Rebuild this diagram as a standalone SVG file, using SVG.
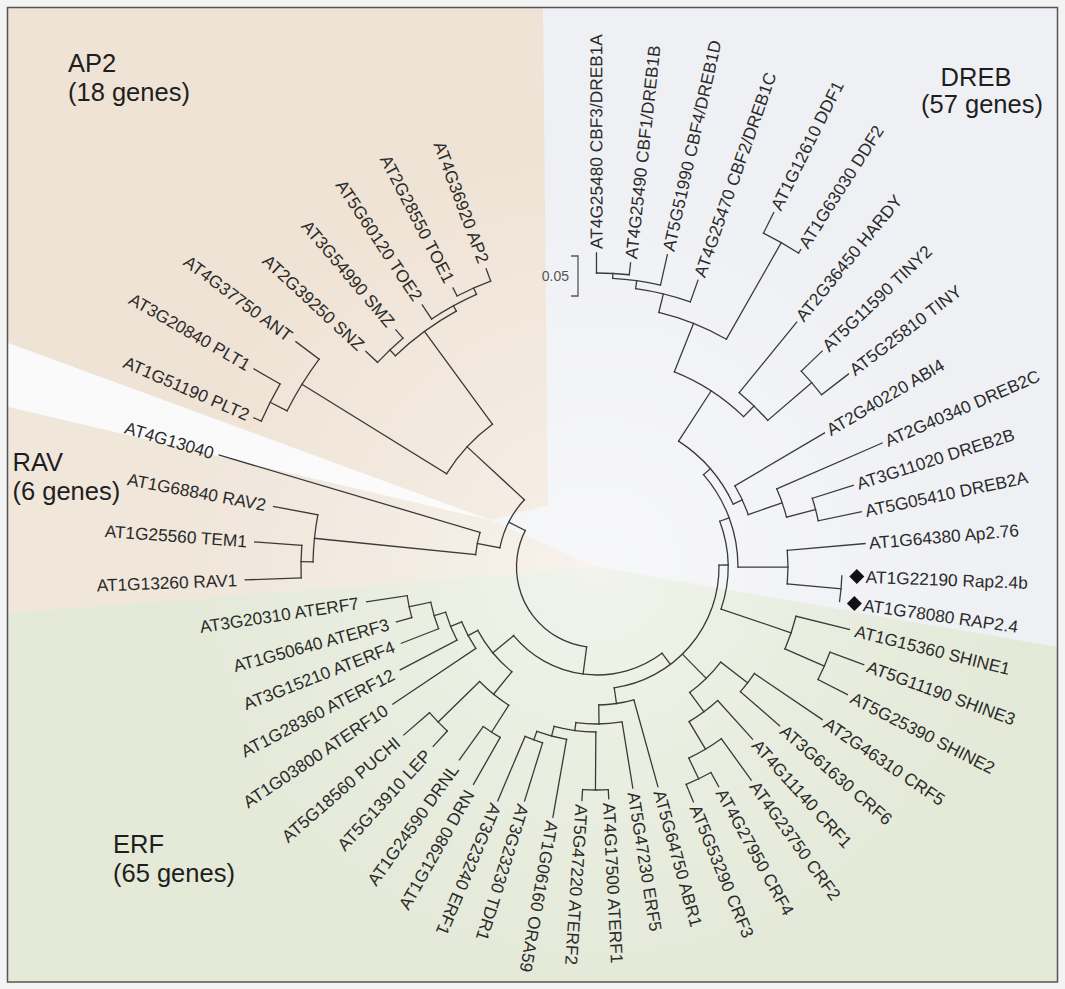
<svg xmlns="http://www.w3.org/2000/svg" width="1065" height="989" viewBox="0 0 1065 989">
<style>
.t{font-family:"Liberation Sans",Arial,sans-serif;font-size:17.3px;fill:#2b2b2b}
.e{text-anchor:end}
.ttl{font-family:"Liberation Sans",Arial,sans-serif;font-size:25.5px;fill:#1e1e1e}
.c line,.c circle{fill:none;stroke:#3a3a3a;stroke-width:1.3;stroke-linecap:square}
</style>
<defs>
<radialGradient id="fade" cx="597" cy="567" r="420" gradientUnits="userSpaceOnUse">
<stop offset="0" stop-color="#ffffff" stop-opacity="0.5"/>
<stop offset="0.45" stop-color="#ffffff" stop-opacity="0.25"/>
<stop offset="1" stop-color="#ffffff" stop-opacity="0"/>
</radialGradient>
</defs>
<rect x="0" y="0" width="1065" height="989" fill="#f3f3f3"/>
<g id="background">
<rect x="7.5" y="7.5" width="1050" height="974.5" fill="#eff0f4"/>
<polygon points="8,8 543,8 548,505 490,520 8,343" fill="#efe3d5"/>
<polygon points="8,343 490,520 8,407" fill="#fafafa"/>
<polygon points="8,407 490,520 597,567 8,613" fill="#f0e6da"/>
<polygon points="8,613 597,567 1057,647 1057,981 8,981" fill="#e4e9d8"/>
<rect x="7.5" y="7.5" width="1050" height="974.5" fill="url(#fade)"/>
<rect x="7.5" y="7.5" width="1050" height="974.5" fill="none" stroke="#555" stroke-width="1.5"/>
</g>
<g id="connectors" class="c" transform="translate(597 567)">
<circle r="80.5" stroke-dasharray="153.93 3000" transform="rotate(97.4)"/>
<circle r="99" stroke-dasharray="54.64 3000" transform="rotate(191.15)"/>
<circle r="122" stroke-dasharray="22.78 3000" transform="rotate(185.8)"/>
<circle r="284" stroke-dasharray="47.34 3000" transform="rotate(181.05)"/>
<circle r="296" stroke-dasharray="32.55 3000" transform="rotate(177.9)"/>
<circle r="177" stroke-dasharray="67.96 3000" transform="rotate(211.775)"/>
<circle r="347" stroke-dasharray="60.87 3000" transform="rotate(206.75)"/>
<circle r="366" stroke-dasharray="41.52 3000" transform="rotate(203.5)"/>
<circle r="292" stroke-dasharray="75.68 3000" transform="rotate(226.35)"/>
<circle r="300" stroke-dasharray="35.08 3000" transform="rotate(223)"/>
<circle r="298" stroke-dasharray="51.23 3000" transform="rotate(236.3)"/>
<circle r="305" stroke-dasharray="36.73 3000" transform="rotate(242.7)"/>
<circle r="108" stroke-dasharray="165.03 3000" transform="rotate(53)"/>
<circle r="135" stroke-dasharray="53.96 3000" transform="rotate(129.1)"/>
<circle r="164" stroke-dasharray="37.64 3000" transform="rotate(122.55)"/>
<circle r="196" stroke-dasharray="20.18 3000" transform="rotate(119.6)"/>
<circle r="222" stroke-dasharray="25.57 3000" transform="rotate(132.4)"/>
<circle r="146" stroke-dasharray="30.07 3000" transform="rotate(146.1)"/>
<circle r="158" stroke-dasharray="30.33 3000" transform="rotate(152.4)"/>
<circle r="170" stroke-dasharray="27.74 3000" transform="rotate(158.7)"/>
<circle r="192" stroke-dasharray="22.45 3000" transform="rotate(164.7)"/>
<circle r="122" stroke-dasharray="176.18 3000" transform="rotate(-0.86)"/>
<circle r="131" stroke-dasharray="89.55 3000" transform="rotate(-20.44)"/>
<circle r="141" stroke-dasharray="100.84 3000" transform="rotate(-40.925)"/>
<circle r="150" stroke-dasharray="84.43 3000" transform="rotate(-57.05)"/>
<circle r="160" stroke-dasharray="31.77 3000" transform="rotate(-30.5)"/>
<circle r="196" stroke-dasharray="29.93 3000" transform="rotate(-23.5)"/>
<circle r="226" stroke-dasharray="23.27 3000" transform="rotate(-17.7)"/>
<circle r="210" stroke-dasharray="83.02 3000" transform="rotate(-68.375)"/>
<circle r="262" stroke-dasharray="72.94 3000" transform="rotate(-76.35)"/>
<circle r="281" stroke-dasharray="56.40 3000" transform="rotate(-82.1)"/>
<circle r="289" stroke-dasharray="48.42 3000" transform="rotate(-86.9)"/>
<circle r="294" stroke-dasharray="32.84 3000" transform="rotate(-90.1)"/>
<circle r="373" stroke-dasharray="40.36 3000" transform="rotate(-63.5)"/>
<circle r="225" stroke-dasharray="39.86 3000" transform="rotate(-50.8)"/>
<circle r="283" stroke-dasharray="31.12 3000" transform="rotate(-43.8)"/>
<circle r="191" stroke-dasharray="33.67 3000" transform="rotate(-5)"/>
<circle r="245" stroke-dasharray="25.66 3000" transform="rotate(2.1)"/>
<circle r="205" stroke-dasharray="34.53 3000" transform="rotate(13.9)"/>
<circle r="248" stroke-dasharray="29.87 3000" transform="rotate(20.1)"/>
<circle r="156" stroke-dasharray="43.59 3000" transform="rotate(37.55)"/>
<circle r="190" stroke-dasharray="22.88 3000" transform="rotate(34.1)"/>
<circle r="180" stroke-dasharray="35.58 3000" transform="rotate(47.9)"/>
<circle r="212" stroke-dasharray="37.93 3000" transform="rotate(54.1)"/>
<circle r="235" stroke-dasharray="27.48 3000" transform="rotate(61)"/>
<circle r="138" stroke-dasharray="35.55 3000" transform="rotate(74.5)"/>
<circle r="157" stroke-dasharray="46.38 3000" transform="rotate(80.8)"/>
<circle r="165" stroke-dasharray="42.19 3000" transform="rotate(90.4)"/>
<circle r="223" stroke-dasharray="25.69 3000" transform="rotate(87.1)"/>
<circle r="175" stroke-dasharray="30.85 3000" transform="rotate(100)"/>
<circle r="184" stroke-dasharray="18.63 3000" transform="rotate(107.2)"/>
<line x1="80.5" x2="108" transform="rotate(97.4)"/>
<line x1="80.5" x2="99" transform="rotate(206.96)"/>
<line x1="99" x2="122" transform="rotate(191.15)"/>
<line x1="99" x2="177" transform="rotate(222.775)"/>
<line x1="122" x2="284" transform="rotate(185.8)"/>
<line x1="122" x2="394" transform="rotate(196.5)"/>
<line x1="284" x2="296" transform="rotate(181.05)"/>
<line x1="284" x2="329" transform="rotate(190.6)"/>
<line x1="296" x2="352" transform="rotate(177.9)"/>
<line x1="296" x2="343" transform="rotate(184.2)"/>
<line x1="177" x2="347" transform="rotate(211.775)"/>
<line x1="177" x2="292" transform="rotate(233.775)"/>
<line x1="347" x2="366" transform="rotate(206.75)"/>
<line x1="347" x2="376" transform="rotate(216.8)"/>
<line x1="366" x2="374" transform="rotate(203.5)"/>
<line x1="366" x2="396" transform="rotate(210)"/>
<line x1="292" x2="300" transform="rotate(226.35)"/>
<line x1="292" x2="298" transform="rotate(241.2)"/>
<line x1="300" x2="316" transform="rotate(223)"/>
<line x1="300" x2="311" transform="rotate(229.7)"/>
<line x1="298" x2="315" transform="rotate(236.3)"/>
<line x1="298" x2="305" transform="rotate(246.15)"/>
<line x1="305" x2="314" transform="rotate(242.7)"/>
<line x1="305" x2="318" transform="rotate(249.6)"/>
<line x1="108" x2="122" transform="rotate(53)"/>
<line x1="108" x2="135" transform="rotate(140.55)"/>
<line x1="135" x2="164" transform="rotate(129.1)"/>
<line x1="135" x2="146" transform="rotate(152)"/>
<line x1="164" x2="196" transform="rotate(122.55)"/>
<line x1="164" x2="222" transform="rotate(135.7)"/>
<line x1="196" x2="250" transform="rotate(119.6)"/>
<line x1="196" x2="237" transform="rotate(125.5)"/>
<line x1="222" x2="243" transform="rotate(132.4)"/>
<line x1="222" x2="256" transform="rotate(139)"/>
<line x1="146" x2="246" transform="rotate(146.1)"/>
<line x1="146" x2="158" transform="rotate(157.9)"/>
<line x1="158" x2="222" transform="rotate(152.4)"/>
<line x1="158" x2="170" transform="rotate(163.375)"/>
<line x1="170" x2="210" transform="rotate(158.7)"/>
<line x1="170" x2="192" transform="rotate(168.05)"/>
<line x1="192" x2="208" transform="rotate(164.7)"/>
<line x1="192" x2="233" transform="rotate(171.4)"/>
<line x1="122" x2="131" transform="rotate(-0.86)"/>
<line x1="122" x2="138" transform="rotate(81.88)"/>
<line x1="122" x2="156" transform="rotate(45.56)"/>
<line x1="131" x2="141" transform="rotate(-20.44)"/>
<line x1="131" x2="205" transform="rotate(18.725)"/>
<line x1="141" x2="150" transform="rotate(-40.925)"/>
<line x1="141" x2="191" transform="rotate(0.05)"/>
<line x1="150" x2="210" transform="rotate(-57.05)"/>
<line x1="150" x2="160" transform="rotate(-24.8)"/>
<line x1="160" x2="264" transform="rotate(-30.5)"/>
<line x1="160" x2="196" transform="rotate(-19.125)"/>
<line x1="196" x2="311" transform="rotate(-23.5)"/>
<line x1="196" x2="226" transform="rotate(-14.75)"/>
<line x1="226" x2="269" transform="rotate(-17.7)"/>
<line x1="226" x2="270" transform="rotate(-11.8)"/>
<line x1="210" x2="262" transform="rotate(-68.375)"/>
<line x1="210" x2="225" transform="rotate(-45.725)"/>
<line x1="262" x2="281" transform="rotate(-76.35)"/>
<line x1="262" x2="373" transform="rotate(-60.4)"/>
<line x1="281" x2="289" transform="rotate(-82.1)"/>
<line x1="281" x2="304" transform="rotate(-70.6)"/>
<line x1="289" x2="294" transform="rotate(-86.9)"/>
<line x1="289" x2="320" transform="rotate(-77.3)"/>
<line x1="294" x2="314" transform="rotate(-90.1)"/>
<line x1="294" x2="306" transform="rotate(-83.7)"/>
<line x1="373" x2="396" transform="rotate(-63.5)"/>
<line x1="373" x2="377" transform="rotate(-57.3)"/>
<line x1="225" x2="316" transform="rotate(-50.8)"/>
<line x1="225" x2="283" transform="rotate(-40.65)"/>
<line x1="283" x2="312" transform="rotate(-43.8)"/>
<line x1="283" x2="317" transform="rotate(-37.5)"/>
<line x1="191" x2="269" transform="rotate(-5)"/>
<line x1="191" x2="245" transform="rotate(5.1)"/>
<line x1="205" x2="248" transform="rotate(23.55)"/>
<line x1="205" x2="260" transform="rotate(13.9)"/>
<line x1="248" x2="284" transform="rotate(20.1)"/>
<line x1="248" x2="281" transform="rotate(27)"/>
<line x1="156" x2="190" transform="rotate(37.55)"/>
<line x1="156" x2="180" transform="rotate(53.56)"/>
<line x1="190" x2="272" transform="rotate(34.1)"/>
<line x1="190" x2="242" transform="rotate(41)"/>
<line x1="180" x2="232" transform="rotate(47.9)"/>
<line x1="180" x2="212" transform="rotate(59.225)"/>
<line x1="212" x2="263" transform="rotate(54.1)"/>
<line x1="212" x2="235" transform="rotate(64.35)"/>
<line x1="235" x2="251" transform="rotate(61)"/>
<line x1="235" x2="254" transform="rotate(67.7)"/>
<line x1="138" x2="228" transform="rotate(74.5)"/>
<line x1="138" x2="157" transform="rotate(89.26)"/>
<line x1="157" x2="224" transform="rotate(80.8)"/>
<line x1="157" x2="165" transform="rotate(97.725)"/>
<line x1="165" x2="223" transform="rotate(90.4)"/>
<line x1="165" x2="175" transform="rotate(105.05)"/>
<line x1="223" x2="232" transform="rotate(87.1)"/>
<line x1="223" x2="234" transform="rotate(93.7)"/>
<line x1="175" x2="254" transform="rotate(100)"/>
<line x1="175" x2="184" transform="rotate(110.1)"/>
<line x1="184" x2="245" transform="rotate(107.2)"/>
<line x1="184" x2="254" transform="rotate(113)"/>
</g>
<g id="leaves" transform="translate(597 567)">
<g id="n-CBF3"><text class="t" dy=".35em" transform="rotate(-90.1) translate(318 0)">AT4G25480 CBF3/DREB1A</text></g>
<g id="n-CBF1"><text class="t" dy=".35em" transform="rotate(-83.7) translate(310 0)">AT4G25490 CBF1/DREB1B</text></g>
<g id="n-CBF4"><text class="t" dy=".35em" transform="rotate(-77.3) translate(324 0)">AT5G51990 CBF4/DREB1D</text></g>
<g id="n-CBF2"><text class="t" dy=".35em" transform="rotate(-70.6) translate(308 0)">AT4G25470 CBF2/DREB1C</text></g>
<g id="n-DDF1"><text class="t" dy=".35em" transform="rotate(-63.5) translate(400 0)">AT1G12610 DDF1</text></g>
<g id="n-DDF2"><text class="t" dy=".35em" transform="rotate(-57.3) translate(381 0)">AT1G63030 DDF2</text></g>
<g id="n-HARDY"><text class="t" dy=".35em" transform="rotate(-50.8) translate(320 0)">AT2G36450 HARDY</text></g>
<g id="n-TINY2"><text class="t" dy=".35em" transform="rotate(-43.8) translate(316 0)">AT5G11590 TINY2</text></g>
<g id="n-TINY"><text class="t" dy=".35em" transform="rotate(-37.5) translate(321 0)">AT5G25810 TINY</text></g>
<g id="n-ABI4"><text class="t" dy=".35em" transform="rotate(-30.5) translate(268 0)">AT2G40220 ABI4</text></g>
<g id="n-DREB2C"><text class="t" dy=".35em" transform="rotate(-23.5) translate(315 0)">AT2G40340 DREB2C</text></g>
<g id="n-DREB2B"><text class="t" dy=".35em" transform="rotate(-17.7) translate(273 0)">AT3G11020 DREB2B</text></g>
<g id="n-DREB2A"><text class="t" dy=".35em" transform="rotate(-11.8) translate(274 0)">AT5G05410 DREB2A</text></g>
<g id="n-Ap276"><text class="t" dy=".35em" transform="rotate(-5) translate(273 0)">AT1G64380 Ap2.76</text></g>
<g id="n-Rap24b"><text class="t" dy=".35em" transform="rotate(2.1) translate(269 0)">AT1G22190 Rap2.4b</text></g>
<g id="n-RAP24"><text class="t" dy=".35em" transform="rotate(8.1) translate(269 0)">AT1G78080 RAP2.4</text></g>
<g id="n-SHINE1"><text class="t" dy=".35em" transform="rotate(13.9) translate(266 0)">AT1G15360 SHINE1</text></g>
<g id="n-SHINE3"><text class="t" dy=".35em" transform="rotate(20.1) translate(288 0)">AT5G11190 SHINE3</text></g>
<g id="n-SHINE2"><text class="t" dy=".35em" transform="rotate(27) translate(286 0)">AT5G25390 SHINE2</text></g>
<g id="n-CRF5"><text class="t" dy=".35em" transform="rotate(34.1) translate(276 0)">AT2G46310 CRF5</text></g>
<g id="n-CRF6"><text class="t" dy=".35em" transform="rotate(41) translate(246 0)">AT3G61630 CRF6</text></g>
<g id="n-CRF1"><text class="t" dy=".35em" transform="rotate(47.9) translate(236 0)">AT4G11140 CRF1</text></g>
<g id="n-CRF2"><text class="t" dy=".35em" transform="rotate(54.1) translate(267 0)">AT4G23750 CRF2</text></g>
<g id="n-CRF4"><text class="t" dy=".35em" transform="rotate(61) translate(255 0)">AT4G27950 CRF4</text></g>
<g id="n-CRF3"><text class="t" dy=".35em" transform="rotate(67.7) translate(258 0)">AT5G53290 CRF3</text></g>
<g id="n-ABR1"><text class="t" dy=".35em" transform="rotate(74.5) translate(232 0)">AT5G64750 ABR1</text></g>
<g id="n-ERF5"><text class="t" dy=".35em" transform="rotate(80.8) translate(228 0)">AT5G47230 ERF5</text></g>
<g id="n-ATERF1"><text class="t" dy=".35em" transform="rotate(87.1) translate(236 0)">AT4G17500 ATERF1</text></g>
<g id="n-ATERF2"><text class="t" dy=".35em" transform="rotate(93.7) translate(238 0)">AT5G47220 ATERF2</text></g>
<g id="n-ORA59"><text class="t" dy=".35em" transform="rotate(100) translate(258 0)">AT1G06160 ORA59</text></g>
<g id="n-TDR1"><text class="t" dy=".35em" transform="rotate(107.2) translate(249 0)">AT3G23230 TDR1</text></g>
<g id="n-ERF1"><text class="t" dy=".35em" transform="rotate(113) translate(258 0)">AT3G23240 ERF1</text></g>
<g id="n-DRN"><text class="t e" dy=".35em" transform="rotate(-60.4) translate(-258 0)">AT1G12980 DRN</text></g>
<g id="n-DRNL"><text class="t e" dy=".35em" transform="rotate(-54.5) translate(-245 0)">AT1G24590 DRNL</text></g>
<g id="n-LEP"><text class="t e" dy=".35em" transform="rotate(-47.6) translate(-251 0)">AT5G13910 LEP</text></g>
<g id="n-PUCHI"><text class="t e" dy=".35em" transform="rotate(-41) translate(-264 0)">AT5G18560 PUCHI</text></g>
<g id="n-ATERF10"><text class="t e" dy=".35em" transform="rotate(-33.9) translate(-254 0)">AT1G03800 ATERF10</text></g>
<g id="n-ATERF12"><text class="t e" dy=".35em" transform="rotate(-27.6) translate(-230 0)">AT1G28360 ATERF12</text></g>
<g id="n-ATERF4"><text class="t e" dy=".35em" transform="rotate(-21.3) translate(-218 0)">AT3G15210 ATERF4</text></g>
<g id="n-ATERF3"><text class="t e" dy=".35em" transform="rotate(-15.3) translate(-216 0)">AT1G50640 ATERF3</text></g>
<g id="n-ATERF7"><text class="t e" dy=".35em" transform="rotate(-8.6) translate(-241 0)">AT3G20310 ATERF7</text></g>
<g id="n-RAV1"><text class="t e" dy=".35em" transform="rotate(-2.1) translate(-360 0)">AT1G13260 RAV1</text></g>
<g id="n-TEM1"><text class="t e" dy=".35em" transform="rotate(4.2) translate(-351 0)">AT1G25560 TEM1</text></g>
<g id="n-RAV2"><text class="t e" dy=".35em" transform="rotate(10.6) translate(-337 0)">AT1G68840 RAV2</text></g>
<g id="n-AT4G13040"><text class="t e" dy=".35em" transform="rotate(16.5) translate(-400 0)">AT4G13040</text></g>
<g id="n-PLT2"><text class="t e" dy=".35em" transform="rotate(23.5) translate(-380 0)">AT1G51190 PLT2</text></g>
<g id="n-PLT1"><text class="t e" dy=".35em" transform="rotate(30) translate(-402 0)">AT3G20840 PLT1</text></g>
<g id="n-ANT"><text class="t e" dy=".35em" transform="rotate(36.8) translate(-383 0)">AT4G37750 ANT</text></g>
<g id="n-SNZ"><text class="t e" dy=".35em" transform="rotate(43) translate(-322 0)">AT2G39250 SNZ</text></g>
<g id="n-SMZ"><text class="t e" dy=".35em" transform="rotate(49.7) translate(-318 0)">AT3G54990 SMZ</text></g>
<g id="n-TOE2"><text class="t e" dy=".35em" transform="rotate(56.3) translate(-322 0)">AT5G60120 TOE2</text></g>
<g id="n-TOE1"><text class="t e" dy=".35em" transform="rotate(62.7) translate(-321 0)">AT2G28550 TOE1</text></g>
<g id="n-AP2"><text class="t e" dy=".35em" transform="rotate(69.6) translate(-325 0)">AT4G36920 AP2</text></g>
</g>
<g id="markers" fill="#111">
<path d="M849.3,576.5 L856.8,569 L864.3,576.5 L856.8,584 Z"/>
<path d="M846.9,603.6 L854.4,596.1 L861.9,603.6 L854.4,611.1 Z"/>
</g>
<g id="scale-bar">
<path d="M571,256 H578 V296 H571" fill="none" stroke="#555" stroke-width="1.3"/>
<text x="569" y="281" font-family="'Liberation Sans',Arial,sans-serif" font-size="14" fill="#555" text-anchor="end">0.05</text>
</g>
<g id="title-AP2"><text class="ttl" x="68" y="72">AP2</text><text class="ttl" x="68" y="101">(18 genes)</text></g>
<g id="title-DREB"><text class="ttl" x="976" y="86" text-anchor="middle">DREB</text><text class="ttl" x="982" y="113" text-anchor="middle">(57 genes)</text></g>
<g id="title-RAV"><text class="ttl" x="12.5" y="471">RAV</text><text class="ttl" x="12.5" y="500">(6 genes)</text></g>
<g id="title-ERF"><text class="ttl" x="113" y="853">ERF</text><text class="ttl" x="113" y="882">(65 genes)</text></g>
</svg>
